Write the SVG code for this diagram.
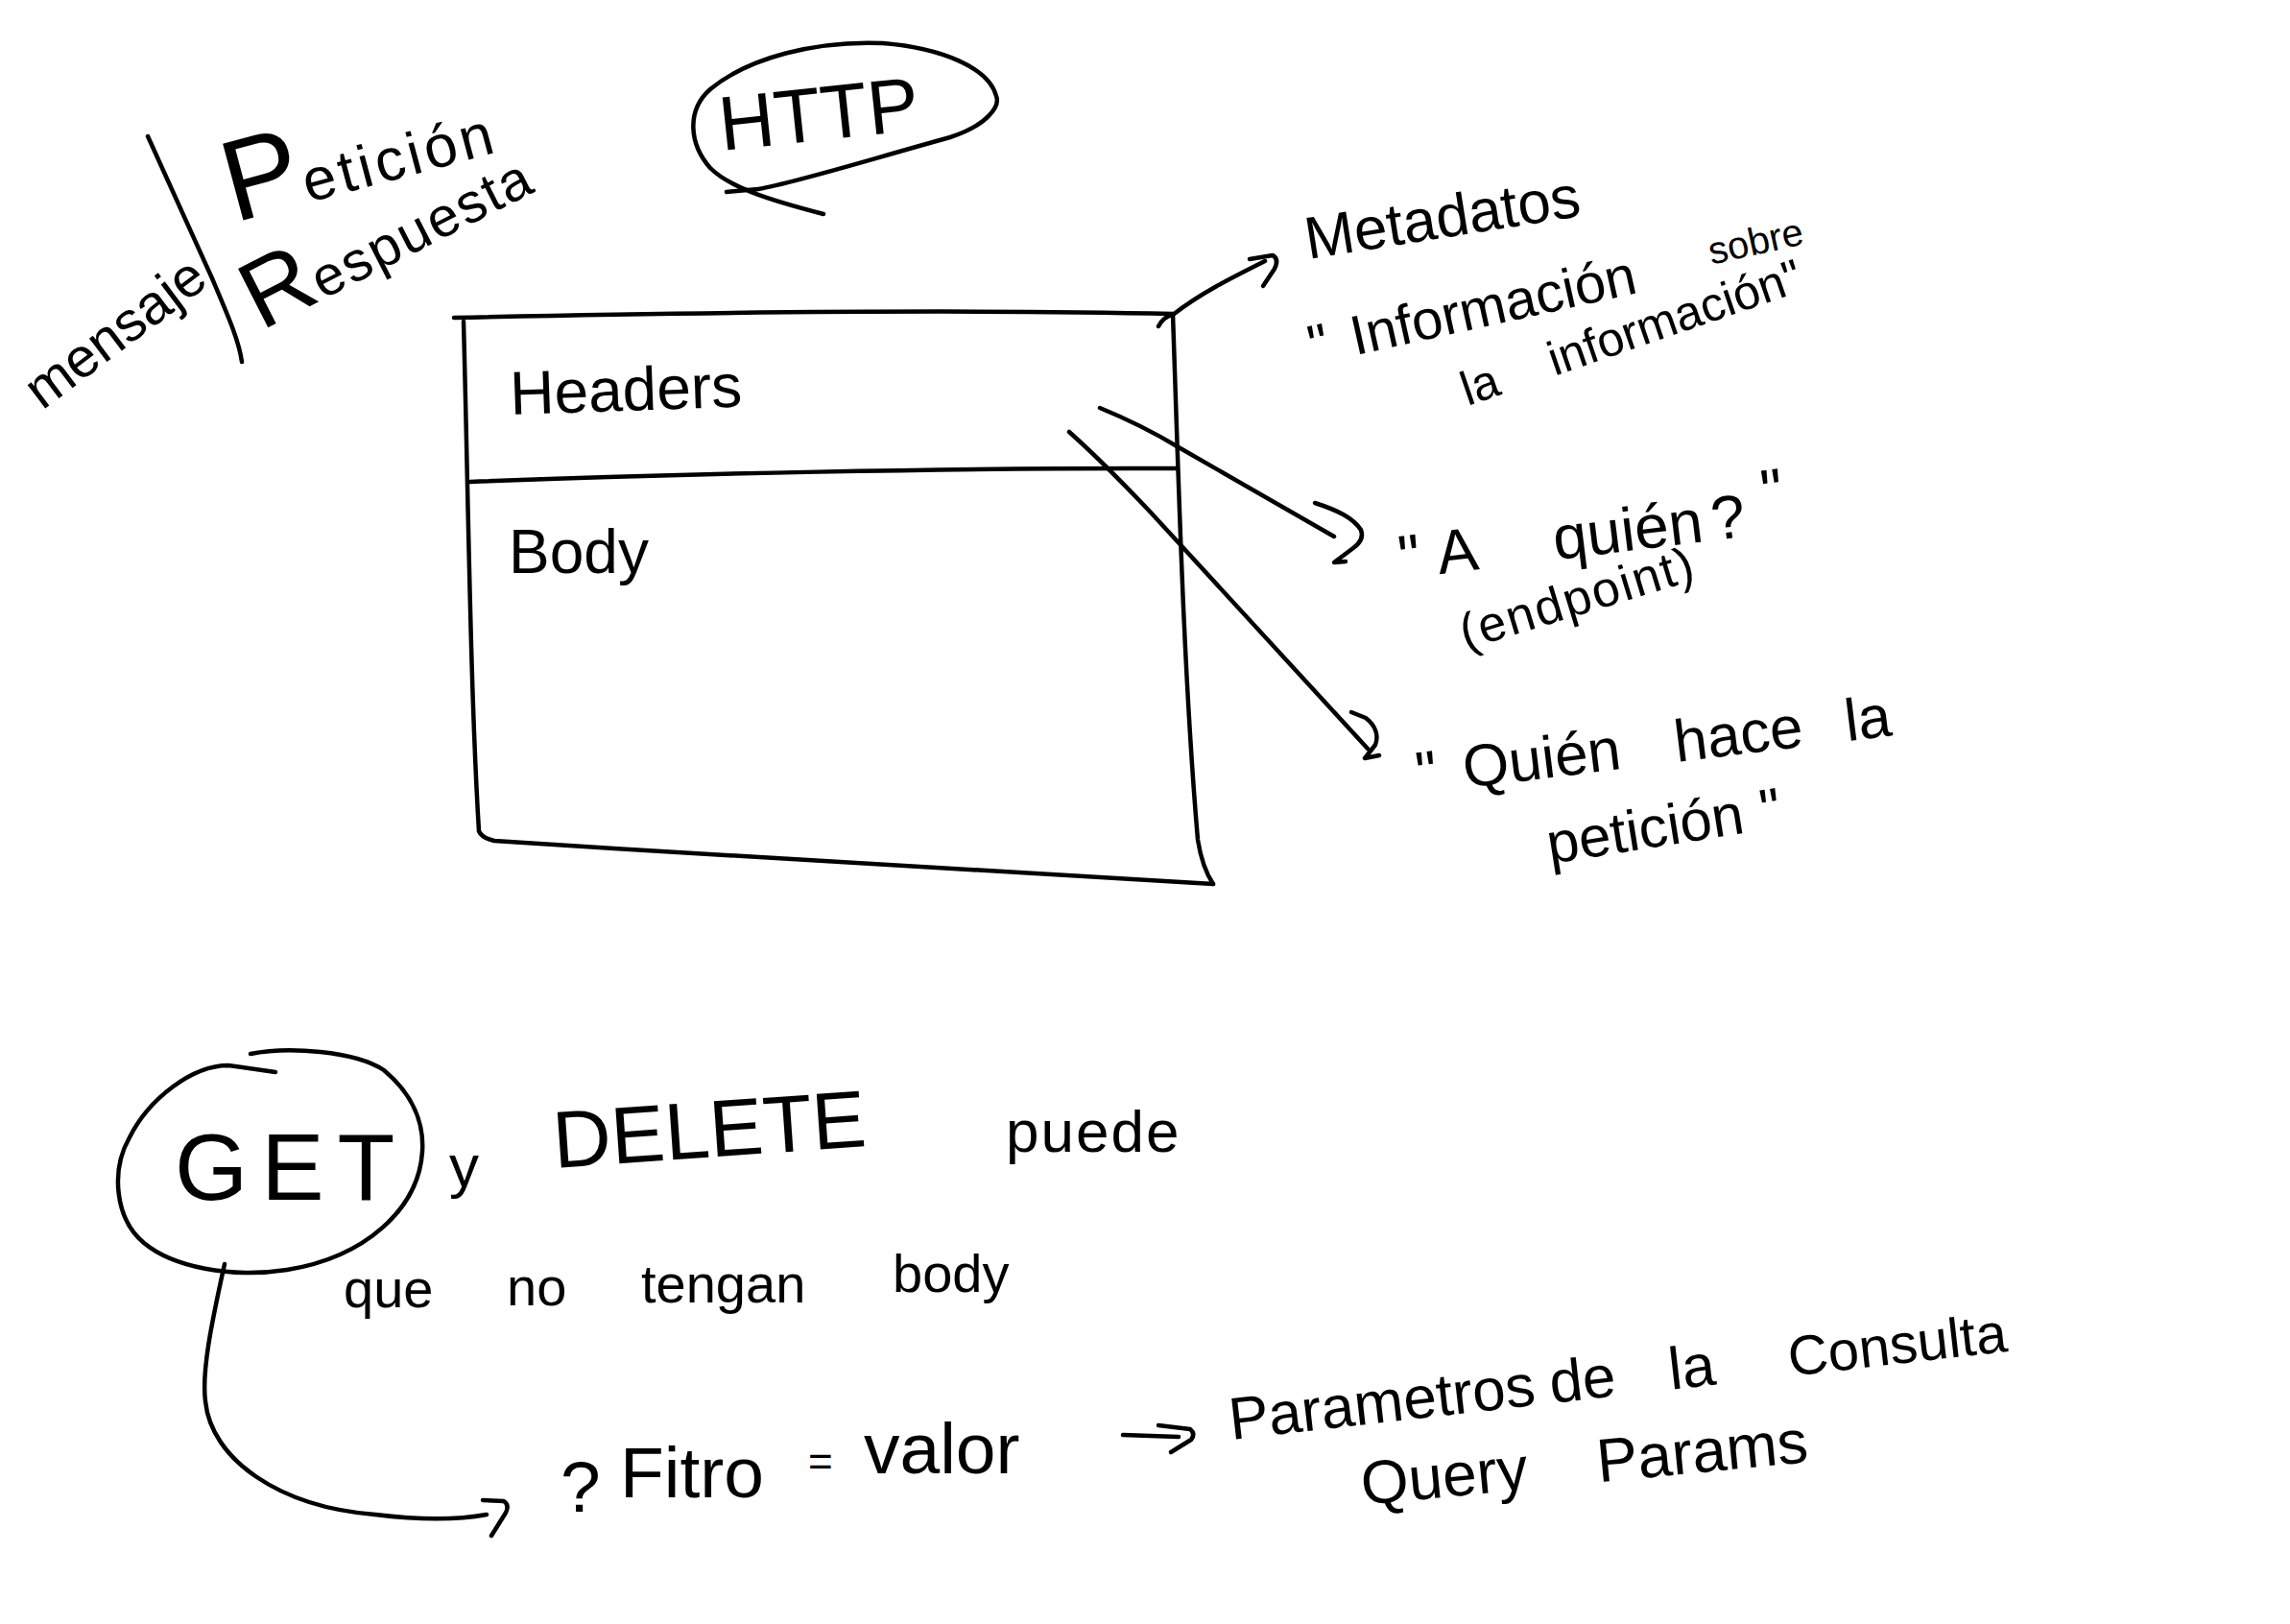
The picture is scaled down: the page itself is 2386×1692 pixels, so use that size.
<svg xmlns="http://www.w3.org/2000/svg" width="2386" height="1692" viewBox="0 0 2386 1692">
<style>
.ink{fill:none;stroke:#000;stroke-width:4.5;stroke-linecap:round;stroke-linejoin:round}
.hw{font-family:"Liberation Sans","DejaVu Sans",sans-serif;fill:#000}
</style>
<rect width="2386" height="1692" fill="#fff"/>

<g id="mensaje">
  <text class="hw" font-size="58" transform="translate(44,428) rotate(-37)">mensaje</text>
</g>
<g id="separator">
  <path class="ink" d="M154,142 L221,290 C238,330 249,355 252,377"/>
</g>
<g id="peticion">
  <text class="hw" transform="translate(244,232) rotate(-15)"><tspan font-size="120">P</tspan><tspan font-size="62" letter-spacing="4">etición</tspan></text>
</g>
<g id="respuesta">
  <text class="hw" transform="translate(272,345) rotate(-27)"><tspan font-size="100">R</tspan><tspan font-size="58" letter-spacing="2">espuesta</tspan></text>
</g>

<g id="http">
  <path class="ink" d="M757,200 L790,197 C830,190 900,168 990,143 C1030,130 1042,110 1038,100 C1030,70 980,50 920,45 C850,42 780,60 740,93 C715,115 718,150 740,175 C760,195 800,208 858,223"/>
  <text class="hw" font-size="80" transform="translate(752,157) rotate(-6)">HTTP</text>
</g>

<g id="message">
  <g id="headers">
    <path class="ink" d="M473,331 C700,326 1000,322 1222,327"/>
    <text class="hw" font-size="64" transform="translate(532,432) rotate(-2)">Headers</text>
  </g>
  <g id="body">
    <path class="ink" d="M490,502 C700,494 1000,487 1225,488"/>
    <text class="hw" font-size="64" x="530" y="597">Body</text>
  </g>
  <path class="ink" d="M483,335 C488,520 490,720 499,866 Q502,873 515,876 C760,892 1000,906 1264,921"/>
  <path class="ink" d="M1222,327 C1228,500 1233,700 1248,875 C1252,900 1258,912 1264,921"/>
</g>

<g id="metadatos">
  <text class="hw" font-size="62" transform="translate(1363,270) rotate(-9)">Metadatos</text>
  <text class="hw" transform="translate(1368,380) rotate(-12.5)"><tspan font-size="58">"</tspan><tspan font-size="58" x="45">Información</tspan><tspan font-size="40" x="428" dy="-12">sobre</tspan></text>
  <text class="hw" font-size="50" transform="translate(1529,423) rotate(-19)"><tspan>la</tspan><tspan x="96">información"</tspan></text>
</g>

<g id="a-quien">
  <text class="hw" font-size="64" transform="translate(1460,603) rotate(-7)"><tspan>"</tspan><tspan x="40">A</tspan><tspan x="162">quién</tspan><tspan x="328">?</tspan><tspan x="383" dy="-22">"</tspan></text>
  <text class="hw" font-size="52" letter-spacing="2" transform="translate(1527,677) rotate(-17)">(endpoint)</text>
</g>

<g id="quien-hace">
  <text class="hw" font-size="62" transform="translate(1478,827) rotate(-7)"><tspan>"</tspan><tspan x="49">Quién</tspan><tspan x="271">hace</tspan><tspan x="450">la</tspan></text>
  <text class="hw" font-size="60" transform="translate(1615,900) rotate(-9)"><tspan>petición</tspan><tspan x="225">"</tspan></text>
</g>

<g id="get">
  <path class="ink" d="M261,1098 C300,1090 370,1095 400,1115 C430,1140 442,1170 440,1200 C436,1260 380,1310 299,1323 C240,1332 180,1320 150,1295 C120,1270 115,1220 135,1185 C155,1145 200,1110 238,1110 L287,1117"/>
  <text class="hw" font-size="98" letter-spacing="14" x="182" y="1250">GET</text>
</g>

<g id="get-delete-note">
  <text class="hw" font-size="62" x="468" y="1236">y</text>
  <text class="hw" font-size="84" transform="translate(578,1217) rotate(-4)">DELETE</text>
  <text class="hw" font-size="62" letter-spacing="2" x="1048" y="1200">puede</text>
  <text class="hw" font-size="56"><tspan x="358" y="1362">que</tspan><tspan x="528" y="1360">no</tspan><tspan x="668" y="1357">tengan</tspan><tspan x="930" y="1346">body</tspan></text>
</g>

<g id="query">
  <text class="hw" font-size="75"><tspan x="584" y="1575">?</tspan><tspan x="646" y="1560">Fitro</tspan><tspan x="842" y="1538" font-size="44">=</tspan><tspan x="900" y="1535">valor</tspan></text>
</g>

<g id="parametros">
  <text class="hw" font-size="62" transform="translate(1283,1500) rotate(-6.5)"><tspan>Parametros</tspan><tspan x="336">de</tspan><tspan x="461">la</tspan><tspan x="586" font-size="58">Consulta</tspan></text>
  <text class="hw" font-size="64" transform="translate(1420,1568) rotate(-5.5)"><tspan>Query</tspan><tspan x="247">Params</tspan></text>
</g>

<g id="connectors">
  <path class="ink" d="M1207,340 Q1212,330 1222,328 C1250,306 1282,290 1318,272"/>
  <path class="ink" d="M1302,270 L1326,266 Q1333,270 1328,280 L1316,298"/>
  <path class="ink" d="M1146,425 Q1190,443 1228,466 L1390,559"/>
  <path class="ink" d="M1370,524 C1395,532 1410,540 1418,552 C1421,560 1417,566 1410,571 L1390,586 L1402,585"/>
  <path class="ink" d="M1114,450 Q1150,482 1200,535 L1425,780"/>
  <path class="ink" d="M1408,742 L1423,748 C1432,755 1437,765 1433,776 L1422,790 L1437,787"/>
  <path class="ink" d="M234,1317 C220,1380 210,1430 214,1460 C220,1520 290,1570 391,1578 C440,1584 480,1583 507,1578"/>
  <path class="ink" d="M503,1563 L525,1564 Q531,1568 527,1576 L512,1600"/>
  <path class="ink" d="M1170,1495 L1228,1497"/>
  <path class="ink" d="M1207,1485 L1240,1489 Q1246,1494 1241,1500 L1220,1513"/>
</g>
</svg>
